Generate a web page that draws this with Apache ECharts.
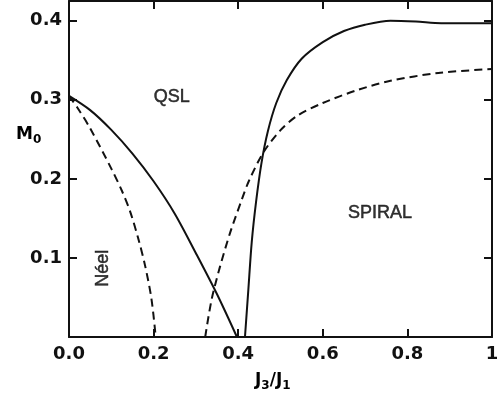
<!DOCTYPE html>
<html>
<head>
<meta charset="utf-8">
<script src="https://cdn.jsdelivr.net/npm/echarts@6/dist/echarts.min.js"></script>
<style>
html, body { margin: 0; padding: 0; background: #fff; }
#chart { width: 497px; height: 396px; }
</style>
</head>
<body>
<div id="chart"></div>
<script>
// J3/J1 vs M0
const neelQsl = [[0, 0.305], [0.05, 0.287], [0.1, 0.262], [0.15, 0.232], [0.2, 0.197], [0.25, 0.156], [0.3, 0.106], [0.35, 0.054], [0.397, 0]]
const neelClassical = [[0, 0.305], [0.02, 0.29], [0.05, 0.264], [0.1, 0.213], [0.125, 0.185], [0.145, 0.158], [0.165, 0.122], [0.18, 0.09], [0.195, 0.048], [0.205, 0]]
const spiralClassical = [[0.322, 0], [0.337, 0.047], [0.357, 0.089], [0.381, 0.132], [0.408, 0.173], [0.425, 0.197], [0.459, 0.233], [0.499, 0.261], [0.54, 0.28], [0.6, 0.296], [0.68, 0.312], [0.76, 0.324], [0.873, 0.334], [1.0, 0.339]]
const spiralQsl = [[0.416, 0], [0.424, 0.06], [0.432, 0.12], [0.442, 0.17], [0.455, 0.22], [0.47, 0.26], [0.49, 0.296], [0.515, 0.325], [0.55, 0.352], [0.6, 0.373], [0.65, 0.387], [0.7, 0.395], [0.76, 0.4], [0.82, 0.399], [0.88, 0.397], [1.0, 0.397]]

const regionNames = ['QSL', 'Néel', 'SPIRAL']
const regionSpots = [[0.243, 0.304], [0.08, 0.087], [0.735, 0.157]]
const regionTilt = [0, 90, 0]

const xTicks = [0, 0.2, 0.4, 0.6, 0.8, 1]
const yTicks = [0.1, 0.2, 0.3, 0.4]

const chart = echarts.init(document.getElementById('chart'))
const tickFont = { color: '#111', fontSize: 18, fontWeight: 'bold', fontFamily: 'DejaVu Sans' }
const near = (v, list) => list.find(t => Math.abs(t - v) < 1e-6)

const xBase = {
  type: 'value', min: 0, max: 1, interval: 0.2,
  axisLine: { show: true, onZero: false, lineStyle: { color: '#111', width: 2 } },
  axisTick: { show: true, inside: true, length: 8, lineStyle: { color: '#111', width: 2 } },
  splitLine: { show: false }
}
const yBase = {
  type: 'value', min: 0, max: 0.425, interval: 0.1,
  axisLine: { show: true, onZero: false, lineStyle: { color: '#111', width: 2 } },
  axisTick: { show: true, inside: true, length: 8, lineStyle: { color: '#111', width: 2 } },
  splitLine: { show: false }
}

const curve = (data, dashed) => ({
  type: 'line',
  data: data,
  smooth: 0.3,
  symbol: 'none',
  silent: true,
  lineStyle: { color: '#111', width: 2, type: dashed ? [8, 5] : 'solid' }
})

// main letter + subscript, bold
const subRich = {
  m: { fontSize: 17, fontWeight: 'bold', fontFamily: 'DejaVu Sans', color: '#111', lineHeight: 22, verticalAlign: 'middle' },
  s: { fontSize: 12, fontWeight: 'bold', fontFamily: 'DejaVu Sans', color: '#111', lineHeight: 14, verticalAlign: 'bottom' }
}

chart.setOption({
  animation: false,
  backgroundColor: '#fff',
  grid: { left: 69, right: 5, top: 1, bottom: 59, outerBoundsMode: 'none' },
  xAxis: [
    Object.assign({}, xBase, {
      position: 'bottom',
      axisLabel: Object.assign({}, tickFont, {
        margin: 8,
        formatter: v => {
          const t = near(v, xTicks)
          if (t === undefined) return ''
          return t === 1 ? '1' : t.toFixed(1)
        }
      })
    }),
    Object.assign({}, xBase, { position: 'top', axisLabel: { show: false } })
  ],
  yAxis: [
    Object.assign({}, yBase, {
      position: 'left',
      axisLabel: Object.assign({}, tickFont, {
        margin: 7,
        formatter: v => {
          const t = near(v, yTicks)
          return t === undefined ? '' : t.toFixed(1)
        }
      })
    }),
    Object.assign({}, yBase, { position: 'right', axisLabel: { show: false } })
  ],
  graphic: [
    {
      type: 'text', left: 16, top: 126,
      style: { text: '{m|M}{s|0}', rich: subRich }
    },
    {
      type: 'text', left: 255, top: 372,
      style: { text: '{m|J}{s|3}{m|/J}{s|1}', rich: subRich }
    }
  ],
  series: [
    curve(neelQsl, false),
    curve(neelClassical, true),
    curve(spiralClassical, true),
    curve(spiralQsl, false),
    {
      type: 'scatter',
      symbolSize: 0,
      silent: true,
      itemStyle: { color: '#000' },
      data: regionNames.map((n, i) => ({
        name: n,
        value: regionSpots[i],
        label: { rotate: regionTilt[i] }
      })),
      label: {
        show: true,
        position: 'inside',
        formatter: p => p.name,
        color: '#000',
        textBorderColor: '#000',
        textBorderWidth: 0.5,
        fontSize: 18,
        fontFamily: 'Liberation Sans'
      }
    }
  ]
})
</script>
</body>
</html>
